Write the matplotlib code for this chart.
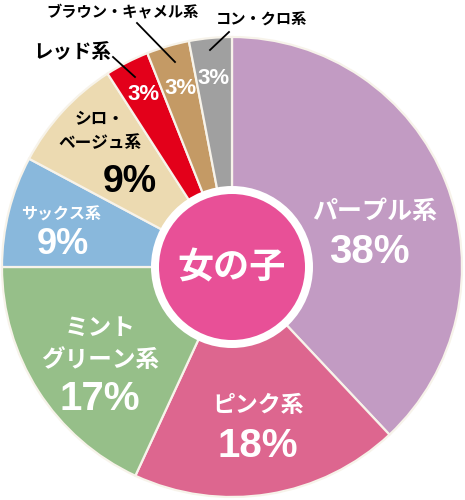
import matplotlib

matplotlib.use("Agg")
import matplotlib.pyplot as plt
from matplotlib.patches import Circle

# pie data, clockwise from 12 o'clock
categories = ["パープル系", "ピンク系", "ミント\nグリーン系", "サックス系",
              "シロ・\nベージュ系", "レッド系", "ブラウン・キャメル系", "コン・クロ系"]
shares = [38, 18, 17, 9, 9, 3, 3, 3]                       # printed labels
arc_shares = [38, 18.9, 18.1, 7.8, 8.1, 3.1, 3.0, 3.0]     # wedge sizes as drawn
colors = ["#c29bc3", "#dd668f", "#96bf89", "#89b8dc",
          "#ecdab1", "#e3001a", "#c49a65", "#a0a0a0"]
center_label = "女の子"

W, H = 465, 500
JP = ["Noto Sans CJK JP", "DejaVu Sans"]
NUM = ["Liberation Sans", "DejaVu Sans"]
NUM_NARROW = ["Liberation Sans Narrow", "Liberation Sans", "DejaVu Sans"]


def py(y):
    """Image row (from top) to data y."""
    return H - y


fig = plt.figure(figsize=(W / 100, H / 100), dpi=100)
ax = fig.add_axes([0, 0, 1, 1])

cx, cy, R = 232, 267, 230
ax.pie(arc_shares, colors=colors, startangle=90, counterclock=False,
       center=(cx, py(cy)), radius=R, frame=True,
       wedgeprops=dict(edgecolor="#f7f3ea", linewidth=1.6))
ax.set_xlim(0, W)
ax.set_ylim(0, H)
ax.set_aspect("equal")
ax.axis("off")

# centre badge
ax.add_patch(Circle((cx, py(cy)), 81, facecolor="white", edgecolor="none", zorder=5))
ax.add_patch(Circle((cx, py(cy)), 73, facecolor="#e85097", edgecolor="none", zorder=6))
ax.text(cx, py(cy + 1), center_label, color="white", fontsize=26, weight="bold",
        family=JP, ha="center", va="center", zorder=7)

# labels inside the large slices: (name pos, pct pos, colour, name size, pct size)
inside = {
    0: ((375, 212), (369, 252), "white", 18, 29),
    1: ((258, 405), (258, 446), "white", 16.5, 29),
    2: ((100, 344), (100, 399), "white", 17, 29),
    3: ((61, 215), (63, 245), "white", 11.5, 26),
    4: ((100, 131), (130, 182), "black", 12, 27),
}
for i, (npos, ppos, col, nsize, psize) in inside.items():
    ax.text(npos[0], py(npos[1]), categories[i], color=col, fontsize=nsize,
            weight="bold", family=JP, ha="center", va="center",
            linespacing=1.4, zorder=4)
    ax.text(ppos[0], py(ppos[1]), f"{shares[i]}%", color=col, fontsize=psize,
            weight="bold", family=NUM, ha="center", va="center", zorder=4)

# small slices: percent inside, name outside with a leader line
small = {
    5: ((143, 95), (72, 53), ((113, 57), (135, 77)), 14),
    6: ((180, 88), (123, 11), ((137, 23), (175, 62)), 11),
    7: ((213, 78), (262, 20), ((229, 32), (210, 50)), 11),
}
for i, (ppos, npos, line, nsize) in small.items():
    ax.text(ppos[0], py(ppos[1]), f"{shares[i]}%", color="white", fontsize=16,
            weight="bold", family=NUM_NARROW, ha="center", va="center", zorder=4)
    ax.text(npos[0], py(npos[1]), categories[i], color="black", fontsize=nsize,
            weight="bold", family=JP, ha="center", va="center", zorder=4)
    (x0, y0), (x1, y1) = line
    ax.plot([x0, x1], [py(y0), py(y1)], color="black", lw=1.3, zorder=4)

fig.savefig("out.png", dpi=100)
